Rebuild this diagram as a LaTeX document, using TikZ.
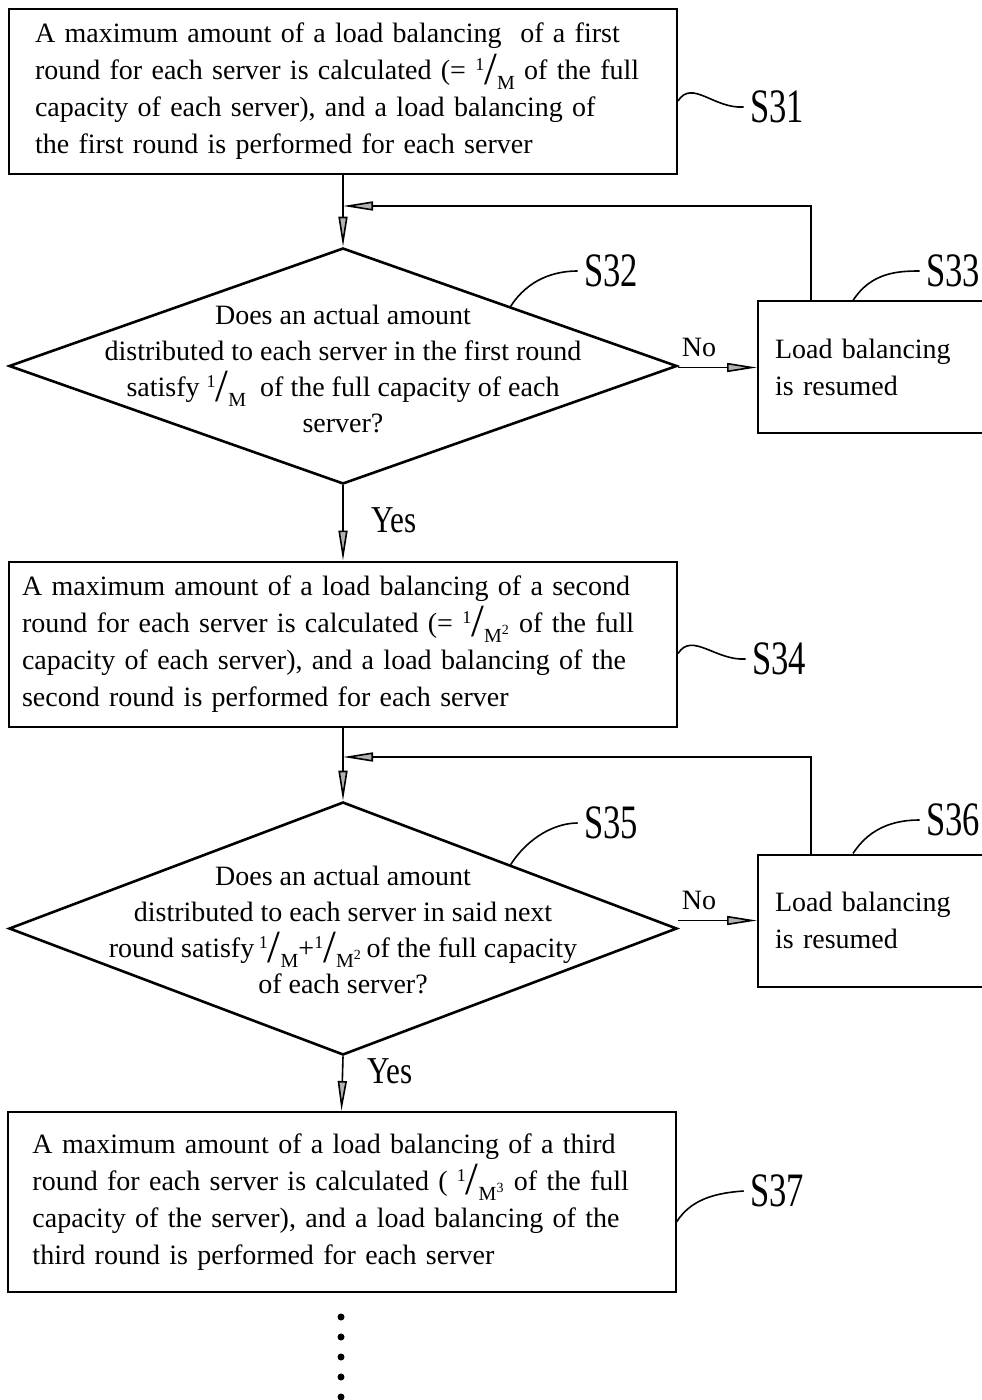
\documentclass[tikz,border=0pt]{standalone}
\usepackage{fontspec}
\setmainfont{Liberation Serif}
\newfontfamily\tagfont[FakeStretch=0.72]{Liberation Serif}
\newfontfamily\yesfont[FakeStretch=0.82]{Liberation Serif}
\usepackage{tikz}
\usetikzlibrary{shapes.geometric,arrows.meta}
\newcommand{\slfr}[2]{\raisebox{0.7ex}{\fontsize{9}{9}\selectfont #1}\raisebox{-0.35ex}{\fontsize{23}{23}\selectfont /}\raisebox{-0.75ex}{\fontsize{10}{10}\selectfont #2}}

\begin{document}
\begin{tikzpicture}[x=0.5pt,y=-0.5pt,
    stepbox/.style={draw,line width=1pt,inner sep=0pt,minimum width=334pt,minimum height=82.5pt,align=left,font=\fontsize{14}{18.5}\selectfont},
    decision/.style={draw,diamond,line width=1.3pt,inner sep=0pt,minimum width=334pt},
    asktext/.style={align=center,inner sep=0pt,font=\fontsize{14}{18}\selectfont},
    resumebox/.style={draw,line width=1pt,inner sep=0pt,minimum width=126pt,minimum height=66pt,text width=109pt,align=left,font=\fontsize{14}{18.5}\selectfont},
    flow/.style={line width=0.8pt,-{Triangle[length=15pt,width=4.5pt,fill=gray!60]}},
    tag/.style={font=\tagfont\fontsize{24}{24}\selectfont,inner sep=3pt},
    tagline/.style={line width=0.8pt},
    answer/.style={font=\fontsize{14}{14}\selectfont},
    yes/.style={font=\yesfont\fontsize{19}{19}\selectfont}]
    \useasboundingbox (0,0) rectangle (981,1400);

    % first round
    \node[stepbox,text width=308pt] (b31) at (343,91.5) {A maximum amount of a load balancing\ \ of a first\\
        round for each server is calculated (= \slfr{1}{M}\ of the full\\
        capacity of each server), and a load balancing of\\
        the first round is performed for each server};
    \node[decision,minimum height=118pt] (d32) at (343,366) {};
    \node[asktext] (t32) at (343,369) {Does an actual amount\\
        distributed to each server in the first round\\
        satisfy \slfr{1}{M}\ \ of the full capacity of each\\
        server?};
    \node[resumebox] (b33) at (884,367.5) {Load balancing\\ is resumed};
    \coordinate (j32) at (343,206);

    % second round
    \node[stepbox,text width=321pt] (b34) at (343,644) {A maximum amount of a load balancing of a second\\
        round for each server is calculated (= \slfr{1}{M\textsuperscript{2}}\ of the full\\
        capacity of each server), and a load balancing of the\\
        second round is performed for each server};
    \node[decision,minimum height=126.5pt] (d35) at (343,928.5) {};
    \node[asktext] (t35) at (343,930) {Does an actual amount\\
        distributed to each server in said next\\
        round satisfy\,\slfr{1}{M}+\slfr{1}{M\textsuperscript{2}}\,of the full capacity\\
        of each server?};
    \node[resumebox] (b36) at (884,920.5) {Load balancing\\ is resumed};
    \coordinate (j35) at (343,757);

    % third round
    \node[stepbox,text width=309pt,minimum height=90pt] (b37) at (341.5,1202) {A maximum amount of a load balancing of a third\\
        round for each server is calculated ( \slfr{1}{M\textsuperscript{3}}\ of the full\\
        capacity of the server), and a load balancing of the\\
        third round is performed for each server};

    \draw[flow] (b31.south) -- (d32.north);
    \draw[flow] ([xshift=-36.5pt]b33.north) |- (j32);
    \draw[flow] (d32.east |- b33.west) -- (b33.west);
    \node[answer] (n32) at (699,347) {No};
    \draw[flow] (d32.south) -- (b34.north);
    \node[yes] (y32) at (394,520) {Yes};

    \draw[flow] (b34.south) -- (d35.north);
    \draw[flow] ([xshift=-36.5pt]b36.north) |- (j35);
    \draw[flow] (d35.east |- b36.west) -- (b36.west);
    \node[answer] (n35) at (699,900) {No};
    \draw[flow] (d35.south) -- (b37.north);
    \node[yes] (y35) at (390,1071) {Yes};

    % step numbers
    \node[tag] (l31) at (777,107) {S31};
    \node[tag] (l32) at (611,271) {S32};
    \node[tag] (l33) at (953,271) {S33};
    \node[tag] (l34) at (779,659) {S34};
    \node[tag] (l35) at (611,823) {S35};
    \node[tag] (l36) at (953,820) {S36};
    \node[tag] (l37) at (777,1191) {S37};
    \draw[tagline] ([yshift=-4.75pt]b31.east) .. controls +(14,-22) and +(-30,2) .. (l31.west);
    \draw[tagline] ([yshift=-4.75pt]b34.east) .. controls +(14,-22) and +(-30,2) .. (l34.west);
    \draw[tagline] ([yshift=-10pt]b37.east) .. controls +(14,-22) and +(-30,2) .. (l37.west);
    \draw[tagline] (d32.north east) .. controls +(18,-28) and +(-22,0) .. (l32.west);
    \draw[tagline] (d35.north east) .. controls +(18,-28) and +(-22,0) .. (l35.west);
    \draw[tagline] ([xshift=-15.5pt]b33.north) .. controls +(18,-28) and +(-22,0) .. (l33.west);
    \draw[tagline] ([xshift=-15.5pt]b36.north) .. controls +(18,-28) and +(-22,0) .. (l36.west);

    \foreach \y in {1317,1337,...,1397}
        \fill (341,\y) circle (1.75pt);
\end{tikzpicture}
\end{document}
